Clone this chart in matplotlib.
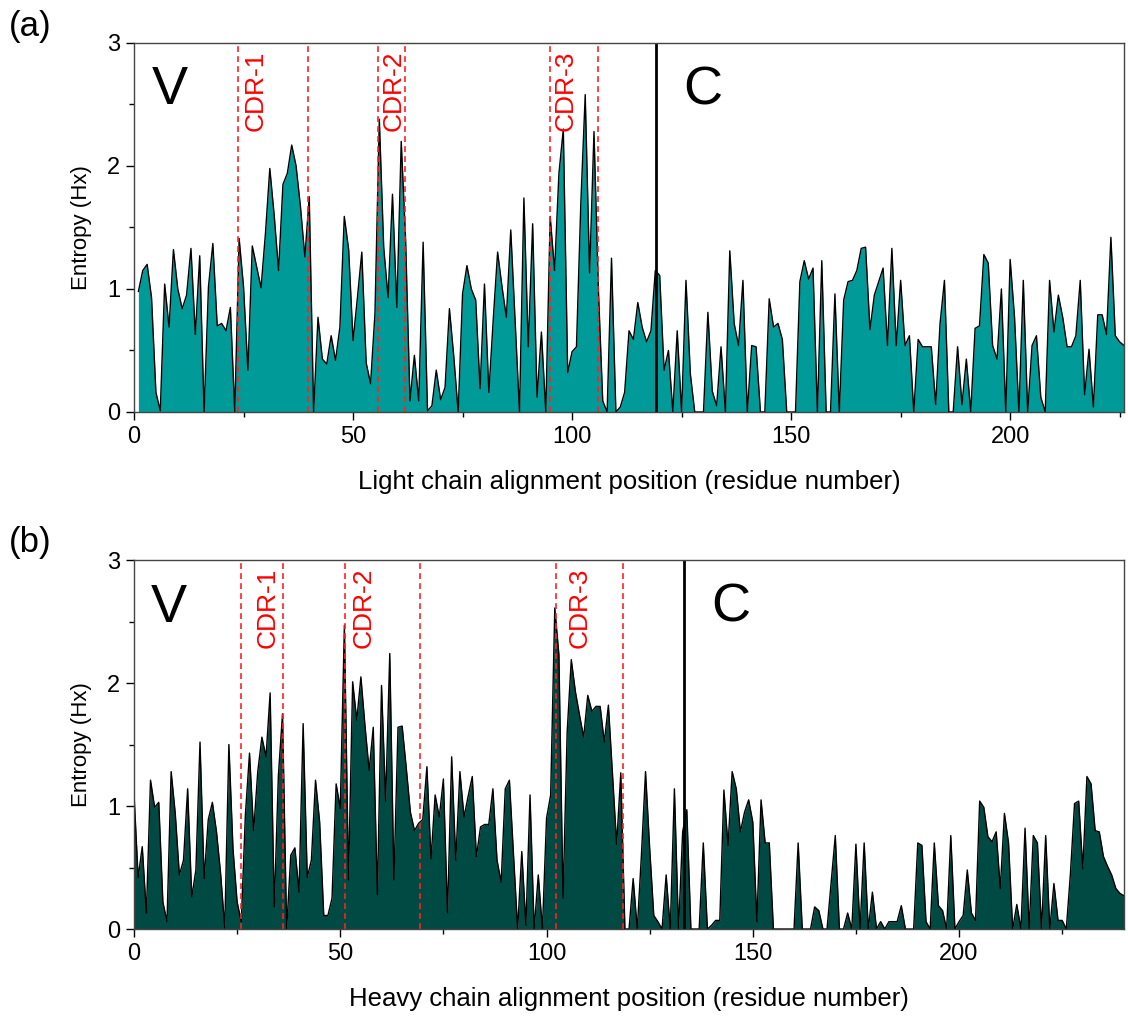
import numpy as np
import matplotlib.pyplot as plt
from matplotlib.ticker import MultipleLocator

plt.rcParams['font.family'] = ['Liberation Sans', 'DejaVu Sans']

# entropy per alignment position, light chain (positions 1..226)
light_entropy = [
  0.98, 1.15, 1.20, 0.93, 0.16, 0.01, 1.04, 0.69, 1.32, 1.00,
  0.84, 0.95, 1.33, 0.63, 1.27, 0.00, 1.02, 1.37, 0.70, 0.72,
  0.66, 0.85, 0.00, 1.41, 1.02, 0.34, 1.35, 1.18, 1.01, 1.45,
  1.98, 1.60, 1.15, 1.85, 1.94, 2.17, 2.00, 1.67, 1.26, 1.75,
  0.00, 0.77, 0.43, 0.39, 0.62, 0.42, 0.69, 1.59, 1.32, 0.58,
  0.93, 1.30, 0.40, 0.23, 0.80, 2.38, 1.34, 0.93, 1.77, 0.85,
  2.20, 1.40, 0.09, 0.46, 0.09, 1.38, 0.01, 0.05, 0.34, 0.10,
  0.20, 0.84, 0.45, 0.00, 0.96, 1.19, 1.00, 0.91, 0.19, 1.04,
  0.16, 0.75, 1.30, 1.02, 0.77, 1.48, 0.74, 0.00, 1.74, 0.53,
  1.53, 0.12, 0.65, 0.00, 1.59, 1.15, 1.94, 2.30, 0.32, 0.49,
  0.53, 1.70, 2.58, 1.13, 2.28, 1.00, 0.09, 0.00, 1.25, 0.00,
  0.04, 0.16, 0.66, 0.59, 0.89, 0.69, 0.57, 0.66, 1.15, 1.11,
  0.34, 0.50, 0.00, 0.66, 0.00, 1.07, 0.31, 0.00, 0.00, 0.00,
  0.81, 0.17, 0.05, 0.53, 0.00, 1.31, 0.72, 0.54, 1.07, 0.00,
  0.54, 0.53, 0.00, 0.00, 0.92, 0.69, 0.72, 0.59, 0.00, 0.00,
  0.00, 1.06, 1.23, 1.08, 1.17, 0.00, 1.23, 0.00, 0.00, 0.96,
  0.00, 0.91, 1.06, 1.07, 1.15, 1.33, 1.34, 0.67, 0.95, 1.06,
  1.17, 0.54, 1.33, 0.54, 1.07, 0.54, 0.62, 0.00, 0.59, 0.53,
  0.53, 0.53, 0.06, 0.72, 1.07, 0.00, 0.00, 0.53, 0.06, 0.43,
  0.00, 0.68, 0.70, 1.28, 1.21, 0.54, 0.43, 1.00, 0.00, 1.24,
  0.77, 0.00, 1.07, 0.00, 0.54, 0.62, 0.12, 0.00, 1.07, 0.65,
  0.95, 0.77, 0.53, 0.53, 0.62, 1.07, 0.14, 0.51, 0.04, 0.79,
  0.79, 0.63, 1.42, 0.62, 0.57, 0.54,
]

# entropy per alignment position, heavy chain (positions 0..240)
heavy_entropy = [
  1.10, 0.42, 0.67, 0.13, 1.21, 0.99, 1.03, 0.22, 0.06, 1.28,
  0.94, 0.44, 0.56, 1.14, 0.26, 0.48, 1.52, 0.41, 0.89, 1.03,
  0.79, 0.45, 0.01, 1.50, 0.65, 0.22, 0.06, 0.93, 1.43, 0.80,
  1.28, 1.56, 1.40, 1.92, 0.18, 1.25, 1.75, 0.00, 0.60, 0.66,
  0.30, 1.67, 0.42, 0.56, 1.21, 0.87, 0.11, 0.11, 0.25, 1.18,
  0.98, 2.47, 0.40, 2.01, 1.70, 2.05, 1.65, 1.29, 1.64, 0.28,
  1.98, 1.04, 2.24, 0.40, 1.64, 1.65, 1.31, 0.95, 0.80, 0.86,
  0.89, 1.32, 0.57, 1.09, 0.91, 1.22, 0.13, 1.40, 0.56, 1.28,
  0.91, 1.08, 1.24, 0.59, 0.83, 0.85, 0.85, 1.14, 0.56, 0.38,
  1.14, 1.21, 0.60, 0.00, 0.63, 0.03, 1.09, 0.00, 0.44, 0.00,
  0.90, 1.09, 2.61, 2.23, 0.25, 1.60, 2.19, 1.93, 1.74, 1.56,
  1.90, 1.77, 1.81, 1.81, 1.52, 1.82, 1.25, 0.69, 1.27, 0.00,
  0.00, 0.41, 0.00, 0.60, 1.28, 0.66, 0.11, 0.06, 0.00, 0.44,
  0.00, 1.14, 0.00, 0.79, 0.97, 0.00, 0.00, 0.00, 0.70, 0.00,
  0.03, 0.07, 0.07, 1.13, 0.68, 1.28, 1.14, 0.79, 0.95, 1.05,
  0.87, 0.06, 1.05, 0.70, 0.70, 0.00, 0.00, 0.00, 0.00, 0.00,
  0.00, 0.70, 0.00, 0.00, 0.00, 0.18, 0.15, 0.00, 0.00, 0.38,
  0.76, 0.00, 0.00, 0.13, 0.00, 0.69, 0.00, 0.70, 0.00, 0.30,
  0.00, 0.06, 0.00, 0.06, 0.06, 0.06, 0.19, 0.00, 0.00, 0.00,
  0.70, 0.68, 0.06, 0.00, 0.70, 0.19, 0.15, 0.00, 0.76, 0.00,
  0.06, 0.11, 0.48, 0.13, 0.07, 1.04, 0.99, 0.75, 0.71, 0.79,
  0.33, 0.94, 0.70, 0.00, 0.20, 0.00, 0.82, 0.00, 0.76, 0.70,
  0.00, 0.76, 0.00, 0.37, 0.07, 0.07, 0.00, 0.45, 1.02, 1.04,
  0.49, 1.24, 1.18, 0.80, 0.79, 0.59, 0.51, 0.44, 0.33, 0.29,
  0.27,
]

# region boundaries (alignment positions)
light_cdr_bounds = [23.7, 39.7, 55.8, 61.8, 95.0, 105.9]
light_vc_bound = 119.1
heavy_cdr_bounds = [26.0, 36.2, 51.2, 69.4, 102.3, 118.5]
heavy_vc_bound = 133.4

cdr_names = ['CDR-1', 'CDR-2', 'CDR-3']
light_cdr_label_x = [27.8, 59.3, 98.5]
heavy_cdr_label_x = [32.4, 55.7, 108.1]


def draw_panel(ax, x, y, color, cdr_bounds, vc_bound, label_x, c_x, xmax, xlabel):
  '''
    filled entropy profile + region markers
  '''
  ax.fill_between(x, y, 0, color=color, linewidth=0)
  ax.plot(x, y, color='black', lw=1.0)

  for b in cdr_bounds:
    ax.axvline(b, color='#ff2020', ls=(0, (3.5, 2.5)), lw=1.2)
  ax.axvline(vc_bound, color='black', lw=2.0)

  for name, lx in zip(cdr_names, label_x):
    ax.text(lx, 2.94, name, rotation=90, color='#ff0000', fontsize=19,
            ha='center', va='top')
  ax.text(4.0, 2.50, 'V', fontsize=39, ha='left', va='baseline')
  ax.text(c_x, 2.50, 'C', fontsize=39, ha='left', va='baseline')

  ax.set_xlim(0, xmax)
  ax.set_ylim(0, 3)
  ax.xaxis.set_major_locator(MultipleLocator(50))
  ax.xaxis.set_minor_locator(MultipleLocator(25))
  ax.yaxis.set_major_locator(MultipleLocator(1))
  ax.yaxis.set_minor_locator(MultipleLocator(0.5))
  ax.tick_params(which='major', direction='out', length=6, width=1.0,
                 labelsize=17, pad=4)
  ax.tick_params(which='minor', direction='out', length=3.5, width=1.0)
  for s in ax.spines.values():
    s.set_color('#444444')
    s.set_linewidth(1.0)
  ax.set_ylabel('Entropy (Hx)', fontsize=16, labelpad=11)
  ax.set_xlabel(xlabel, fontsize=18.5, labelpad=16)


fig = plt.figure(figsize=(11.28, 10.16), dpi=100)
ax_a = fig.add_axes([0.1188, 0.5945, 0.8777, 0.3632])
ax_b = fig.add_axes([0.1188, 0.0856, 0.8777, 0.3632])

x_light = np.arange(1, len(light_entropy) + 1)
x_heavy = np.arange(0, len(heavy_entropy))

draw_panel(ax_a, x_light, light_entropy, '#009a98', light_cdr_bounds,
           light_vc_bound, light_cdr_label_x, 125.4, 226,
           'Light chain alignment position (residue number)')
draw_panel(ax_b, x_heavy, heavy_entropy, '#004a44', heavy_cdr_bounds,
           heavy_vc_bound, heavy_cdr_label_x, 140.0, 240,
           'Heavy chain alignment position (residue number)')

fig.text(0.008, 0.990, '(a)', fontsize=25, ha='left', va='top')
fig.text(0.008, 0.482, '(b)', fontsize=25, ha='left', va='top')

fig.savefig('out.png', dpi=100)
